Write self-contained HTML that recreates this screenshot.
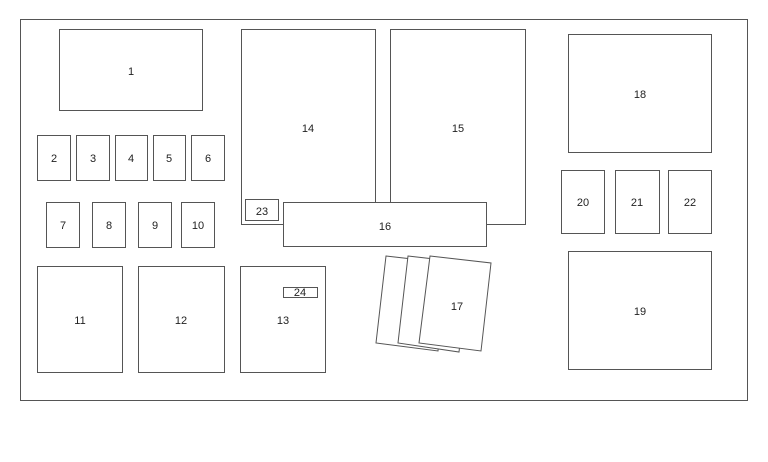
<!DOCTYPE html>
<html><head><style>body{margin:0;background:#fff}</style></head><body>
<svg width="768" height="457" viewBox="0 0 768 457" xmlns="http://www.w3.org/2000/svg" font-family="Liberation Sans, sans-serif" font-size="11" fill="#222">
<g fill="#fff" stroke="#555" stroke-width="1">
<rect x="20.5" y="19.5" width="727" height="381"/>
<rect x="59.5" y="29.5" width="143" height="81"/>
<rect x="37.5" y="135.5" width="33" height="45"/>
<rect x="76.5" y="135.5" width="33" height="45"/>
<rect x="115.5" y="135.5" width="32" height="45"/>
<rect x="153.5" y="135.5" width="32" height="45"/>
<rect x="191.5" y="135.5" width="33" height="45"/>
<rect x="46.5" y="202.5" width="33" height="45"/>
<rect x="92.5" y="202.5" width="33" height="45"/>
<rect x="138.5" y="202.5" width="33" height="45"/>
<rect x="181.5" y="202.5" width="33" height="45"/>
<rect x="37.5" y="266.5" width="85" height="106"/>
<rect x="138.5" y="266.5" width="86" height="106"/>
<rect x="240.5" y="266.5" width="85" height="106"/>
<rect x="283.5" y="287.5" width="34" height="10"/>
<rect x="241.5" y="29.5" width="134" height="195"/>
<rect x="390.5" y="29.5" width="135" height="195"/>
<rect x="245.5" y="199.5" width="33" height="21"/>
<rect x="283.5" y="202.5" width="203" height="44"/>
<rect x="568.5" y="34.5" width="143" height="118"/>
<rect x="568.5" y="251.5" width="143" height="118"/>
<rect x="561.5" y="170.5" width="43" height="63"/>
<rect x="615.5" y="170.5" width="44" height="63"/>
<rect x="668.5" y="170.5" width="43" height="63"/>
<polygon points="386,256 447,263 438,351 376,343"/>
<polygon points="408,256 469,263 459,352 398,343"/>
<polygon points="430,256 491,263 481,351 419,343"/>
</g>
<g text-anchor="middle">
<text x="131" y="75">1</text>
<text x="54" y="162">2</text><text x="93" y="162">3</text><text x="131" y="162">4</text><text x="169" y="162">5</text><text x="208" y="162">6</text>
<text x="63" y="229">7</text><text x="109" y="229">8</text><text x="155" y="229">9</text><text x="198" y="229">10</text>
<text x="80" y="324">11</text><text x="181" y="324">12</text><text x="283" y="324">13</text>
<text x="300" y="296">24</text>
<text x="308" y="132">14</text><text x="458" y="132">15</text>
<text x="262" y="215">23</text><text x="385" y="230">16</text>
<text x="640" y="98">18</text><text x="640" y="315">19</text>
<text x="583" y="206">20</text><text x="637" y="206">21</text><text x="690" y="206">22</text>
<text x="457" y="310">17</text>
</g>
</svg>
</body></html>
